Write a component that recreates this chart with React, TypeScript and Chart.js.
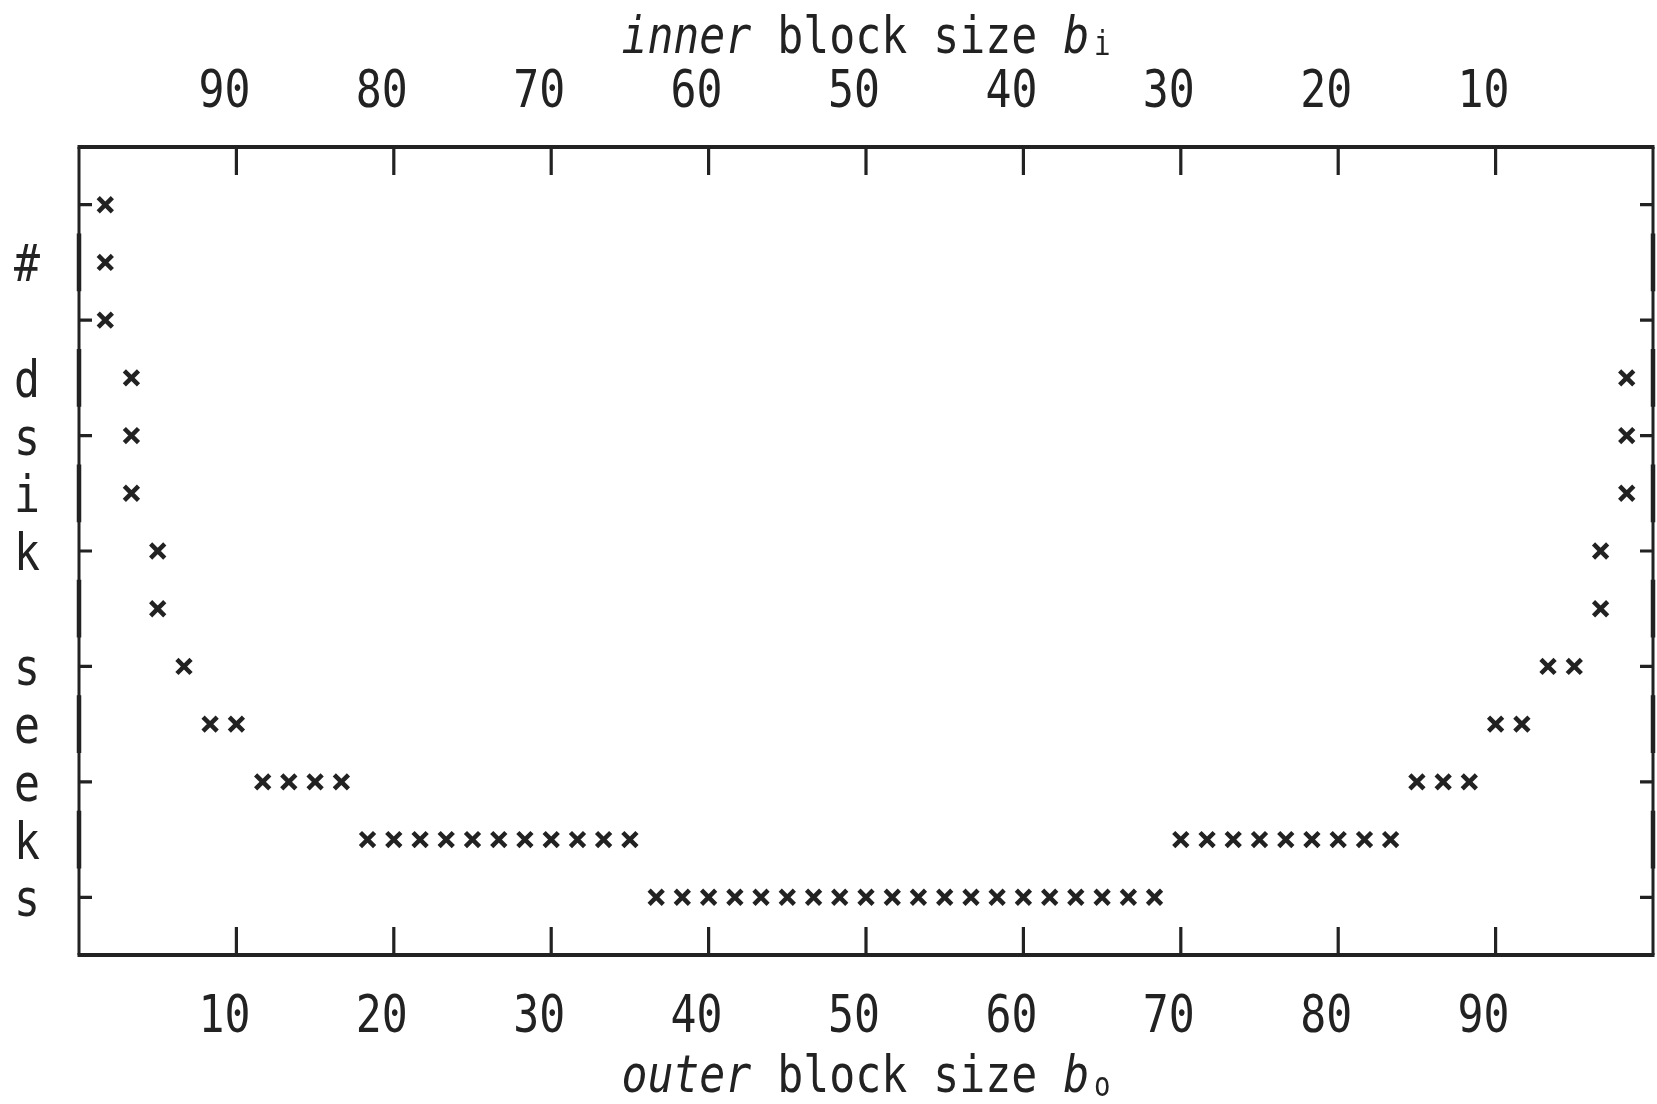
import React, { useEffect, useRef } from "react";
import { Chart, registerables } from "chart.js";

Chart.register(...registerables);

// ---- data ----
const outerBlockSizes: number[] = [
  1.67, 1.67, 1.67,
  3.33, 3.33, 3.33,
  5.0, 5.0,
  6.67,
  8.33, 10.0,
  11.67, 13.33, 15.0, 16.67,
  18.33, 20.0, 21.67, 23.33, 25.0, 26.67, 28.33, 30.0, 31.67, 33.33, 35.0,
  36.67, 38.33, 40.0, 41.67, 43.33, 45.0, 46.67, 48.33, 50.0, 51.67,
  53.33, 55.0, 56.67, 58.33, 60.0, 61.67, 63.33, 65.0, 66.67, 68.33,
  70.0, 71.67, 73.33, 75.0, 76.67, 78.33, 80.0, 81.67, 83.33,
  85.0, 86.67, 88.33,
  90.0, 91.67,
  93.33, 95.0,
  96.67, 96.67,
  98.33, 98.33, 98.33,
];

const seekLevels: number[] = [
  12, 11, 10,
  9, 8, 7,
  6, 5,
  4,
  3, 3,
  2, 2, 2, 2,
  1, 1, 1, 1, 1, 1, 1, 1, 1, 1, 1,
  0, 0, 0, 0, 0, 0, 0, 0, 0, 0,
  0, 0, 0, 0, 0, 0, 0, 0, 0, 0,
  1, 1, 1, 1, 1, 1, 1, 1, 1,
  2, 2, 2,
  3, 3,
  4, 4,
  6, 5,
  9, 8, 7,
];

const outerTicks: number[] = [10, 20, 30, 40, 50, 60, 70, 80, 90];
const innerTicks: number[] = [90, 80, 70, 60, 50, 40, 30, 20, 10];
const seekTicks: number[] = [0, 2, 4, 6, 8, 10, 12];
// y-axis title written one character per level (level 0 .. 12)
const seekAxisLetters: string[] = ["s", "k", "e", "e", "s", "", "k", "i", "s", "d", "", "#", ""];

const INK = "#222222";
const FAMILY = '"DejaVu Sans Mono", monospace';
const FS = 52;
const SX = 0.83;

type Piece = { text: string; font: string; dy?: number; dx?: number };

function drawPieces(ctx: CanvasRenderingContext2D, pieces: Piece[], cx: number, baseline: number) {
  const widths = pieces.map((p) => {
    ctx.font = p.font;
    return ctx.measureText(p.text).width + (p.dx || 0);
  });
  const total = widths.reduce((s, w) => s + w, 0);
  ctx.save();
  ctx.translate(cx - (total * SX) / 2, baseline);
  ctx.scale(SX, 1);
  ctx.textAlign = "left";
  ctx.textBaseline = "alphabetic";
  let cur = 0;
  pieces.forEach((p, i) => {
    ctx.font = p.font;
    ctx.fillText(p.text, cur + (p.dx || 0), p.dy || 0);
    cur += widths[i];
  });
  ctx.restore();
}

const framePlugin = {
  id: "gnuFrame",
  afterDraw(chart: any) {
    const { ctx, chartArea: a, scales } = chart;
    const x = scales.x;
    const x2 = scales.x2;
    const y = scales.y;
    ctx.save();
    ctx.strokeStyle = INK;
    ctx.fillStyle = INK;
    ctx.lineCap = "butt";

    // top & bottom borders
    ctx.lineWidth = 4;
    ctx.beginPath();
    ctx.moveTo(a.left - 1.5, a.top);
    ctx.lineTo(a.right + 1.5, a.top);
    ctx.moveTo(a.left - 1.5, a.bottom);
    ctx.lineTo(a.right + 1.5, a.bottom);
    ctx.stroke();

    // side borders (thin), with thicker runs around odd levels
    ctx.lineWidth = 3;
    ctx.beginPath();
    ctx.moveTo(a.left, a.top);
    ctx.lineTo(a.left, a.bottom);
    ctx.moveTo(a.right, a.top);
    ctx.lineTo(a.right, a.bottom);
    ctx.stroke();
    const half = Math.abs(y.getPixelForValue(0) - y.getPixelForValue(1)) / 2;
    ctx.lineWidth = 4.5;
    ctx.beginPath();
    for (let l = 1; l <= 11; l += 2) {
      const py = y.getPixelForValue(l);
      ctx.moveTo(a.left, py - half);
      ctx.lineTo(a.left, py + half);
      ctx.moveTo(a.right, py - half);
      ctx.lineTo(a.right, py + half);
    }
    ctx.stroke();

    // inward ticks
    ctx.lineWidth = 3.2;
    ctx.beginPath();
    outerTicks.forEach((v) => {
      const px = x.getPixelForValue(v);
      ctx.moveTo(px, a.bottom);
      ctx.lineTo(px, a.bottom - 28);
    });
    innerTicks.forEach((v) => {
      const px = x2.getPixelForValue(v);
      ctx.moveTo(px, a.top);
      ctx.lineTo(px, a.top + 28);
    });
    seekTicks.forEach((v) => {
      const py = y.getPixelForValue(v);
      ctx.moveTo(a.left, py);
      ctx.lineTo(a.left + 13, py);
      ctx.moveTo(a.right, py);
      ctx.lineTo(a.right - 13, py);
    });
    ctx.stroke();

    const reg = `${FS}px ${FAMILY}`;
    const ital = `italic ${FS}px ${FAMILY}`;
    const sub = `33px ${FAMILY}`;

    // tick labels
    outerTicks.forEach((v) => {
      drawPieces(ctx, [{ text: String(v), font: reg }], x.getPixelForValue(v) - 12, 1032);
    });
    innerTicks.forEach((v) => {
      drawPieces(ctx, [{ text: String(v), font: reg }], x2.getPixelForValue(v) - 12, 107);
    });
    // vertical y title, one letter per level
    seekAxisLetters.forEach((ch, lvl) => {
      if (!ch) return;
      drawPieces(ctx, [{ text: ch, font: reg }], 27, y.getPixelForValue(lvl) + 19);
    });

    const cx = (a.left + a.right) / 2;
    drawPieces(
      ctx,
      [
        { text: "inner", font: ital },
        { text: " block size ", font: reg },
        { text: "b", font: ital },
        { text: "i", font: sub, dy: 2, dx: 6 },
      ],
      cx,
      53
    );
    drawPieces(
      ctx,
      [
        { text: "outer", font: ital },
        { text: " block size ", font: reg },
        { text: "b", font: ital },
        { text: "o", font: sub, dy: 4, dx: 6 },
      ],
      cx,
      1092
    );
    ctx.restore();
  },
};

export default function App() {
  const canvasRef = useRef<HTMLCanvasElement | null>(null);

  useEffect(() => {
    const canvas = canvasRef.current;
    if (!canvas) return;
    const points = outerBlockSizes.map((bo, i) => ({ x: bo, y: seekLevels[i] }));
    const chart = new Chart(canvas, {
      type: "scatter",
      data: {
        datasets: [
          {
            label: "# disk seeks",
            data: points,
            pointStyle: "crossRot",
            pointRadius: 10,
            pointHoverRadius: 10,
            borderWidth: 4.5,
            borderColor: INK,
            backgroundColor: INK,
            showLine: false,
          },
        ],
      },
      options: {
        animation: false,
        responsive: false,
        events: [],
        layout: { autoPadding: false, padding: { left: 79, top: 147, right: 4, bottom: 149 } },
        plugins: {
          legend: { display: false },
          tooltip: { enabled: false },
          title: { display: false },
        },
        scales: {
          x: { type: "linear", display: false, min: 0, max: 100 },
          x2: { type: "linear", display: false, min: 0, max: 100, reverse: true, position: "top" },
          y: { type: "linear", display: false, min: -1, max: 13 },
        },
      },
      plugins: [framePlugin],
    });
    return () => chart.destroy();
  }, []);

  return (
    <div style={{ position: "fixed", left: 0, top: 0, width: 1657, height: 1104, background: "#ffffff" }}>
      <canvas ref={canvasRef} width={1657} height={1104} style={{ display: "block" }} />
    </div>
  );
}
